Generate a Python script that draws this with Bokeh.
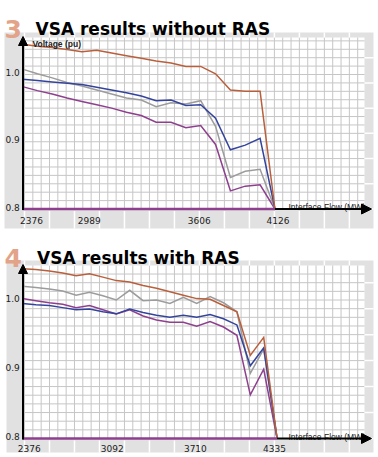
import numpy as np
from bokeh.plotting import figure
from bokeh.layouts import column
from bokeh.models import Arrow, NormalHead
from bokeh.core.properties import value
from bokeh.embed import file_html
from bokeh.resources import INLINE

# ---------------- data ----------------
# Panel 3: VSA results without RAS (operating-point index vs voltage in pu)
points_1 = list(range(18))
orange_1 = [1.045, 1.042, 1.040, 1.037, 1.034, 1.036, 1.032, 1.028, 1.024, 1.020,
            1.017, 1.012, 1.012, 1.001, 0.977, 0.975, 0.975, 0.800]
gray_1 = [1.008, 1.001, 0.995, 0.988, 0.983, 0.977, 0.971, 0.965, 0.962, 0.952,
          0.958, 0.956, 0.961, 0.923, 0.847, 0.856, 0.859, 0.800]
blue_1 = [0.993, 0.991, 0.989, 0.987, 0.985, 0.981, 0.977, 0.973, 0.968, 0.961,
          0.962, 0.954, 0.955, 0.935, 0.888, 0.895, 0.905, 0.800]
purple_1 = [0.982, 0.976, 0.971, 0.965, 0.960, 0.955, 0.950, 0.944, 0.939, 0.929,
            0.929, 0.921, 0.924, 0.896, 0.827, 0.834, 0.836, 0.800]
xtick_pos_1 = [0.6, 4.5, 11.9, 17.2]
xtick_lab_1 = ["2376", "2989", "3606", "4126"]

# Panel 4: VSA results with RAS
points_2 = list(range(20))
orange_2 = [1.045, 1.044, 1.042, 1.039, 1.035, 1.038, 1.033, 1.028, 1.026, 1.021,
            1.017, 1.012, 1.007, 1.002, 1.001, 0.992, 0.983, 0.920, 0.946, 0.800]
gray_2 = [1.020, 1.018, 1.016, 1.013, 1.007, 1.011, 1.006, 1.000, 1.014, 0.999,
          1.000, 0.995, 1.004, 0.995, 1.005, 0.996, 0.983, 0.894, 0.929, 0.800]
blue_2 = [0.995, 0.993, 0.992, 0.989, 0.986, 0.987, 0.983, 0.980, 0.987, 0.982,
          0.978, 0.975, 0.978, 0.975, 0.979, 0.973, 0.964, 0.905, 0.931, 0.800]
purple_2 = [1.002, 0.999, 0.996, 0.994, 0.989, 0.992, 0.986, 0.980, 0.986, 0.977,
            0.971, 0.968, 0.968, 0.962, 0.969, 0.961, 0.949, 0.863, 0.900, 0.800]
xtick_pos_2 = [0.5, 6.7, 12.9, 18.8]
xtick_lab_2 = ["2376", "3092", "3710", "4335"]

ytick_vals = [1.0, 0.9, 0.8]
ytick_labs = ["1.0", "0.9", "0.8"]

# ---------------- style ----------------
C_ORANGE = "#b95f3c"
C_GRAY = "#9c9c9c"
C_BLUE = "#34449c"
C_PURPLE = "#8e3f8e"
C_NUM = "#e2a389"
C_FRAME = "#e1e1e1"
C_GRID = "#c6c6c6"
TITLE_FONT = value("DejaVu Sans")
SMALL_FONT = value("Liberation Sans")
TICK_FONT = value("DejaVu Sans")


def panel(num, title, pts, series, xt_pos, xt_lab, H, x0, dx, y1, k, L, show_ylabel):
    W = 378
    X = lambda px: (px - x0) / dx
    Y = lambda py: 1.0 - (py - y1) / k
    p = figure(width=W, height=H, output_backend="svg", toolbar_location=None,
               x_range=(X(0), X(W)), y_range=(Y(H), Y(0)),
               x_axis_location=None, y_axis_location=None, min_border=0)
    p.grid.visible = False
    p.outline_line_color = None
    p.background_fill_color = "white"
    p.border_fill_color = "white"

    # frame and white grid area
    p.quad(left=X(L["fl"]), right=X(L["fr"]), top=Y(L["ft"]), bottom=Y(L["fb"]),
           fill_color=C_FRAME, line_color=None)
    p.quad(left=X(24), right=X(364), top=Y(L["gt"]), bottom=Y(L["gb"]),
           fill_color="white", line_color=None)
    # grid lines
    vx = np.arange(24, 365, 8.33)
    p.segment(x0=[X(v) for v in vx], y0=Y(L["gt"]), x1=[X(v) for v in vx], y1=Y(L["gb"]),
              line_color=C_GRID, line_width=1)
    hv = [0.8 + 0.0125 * i for i in range(21)]
    hv = [h for h in hv if h <= Y(L["gt"])]
    p.segment(x0=X(24), y0=hv, x1=X(364), y1=hv, line_color=C_GRID, line_width=1)
    # white separators in frame bands
    sx = vx[::3]
    p.segment(x0=[X(v) for v in sx], y0=Y(L["gb"] + 2), x1=[X(v) for v in sx], y1=Y(L["fb"]),
              line_color="white", line_width=1.5)
    p.segment(x0=[X(v) for v in sx], y0=Y(L["ft"]), x1=[X(v) for v in sx], y1=Y(L["gt"]),
              line_color="white", line_width=1.5)
    sh = hv[::3]
    p.segment(x0=X(364), y0=sh, x1=X(L["fr"]), y1=sh, line_color="white", line_width=1.5)

    # curves
    for ys, col in series:
        p.line(pts, ys, line_color=col, line_width=1.5, line_join="miter")
    # collapsed baseline
    p.line([pts[0], pts[-1]], [0.8, 0.8], line_color=C_PURPLE, line_width=2.5)

    # axes with arrows
    p.add_layout(Arrow(x_start=X(pts[-1] * dx + x0), y_start=0.8, x_end=X(371), y_end=0.8,
                       line_width=2, line_color="black",
                       end=NormalHead(size=10, fill_color="black", line_color="black")))
    p.add_layout(Arrow(x_start=X(22.5), y_start=Y(L["gb"] + 1), x_end=X(22.5), y_end=Y(L["at"]),
                       line_width=2, line_color="black",
                       end=NormalHead(size=9, fill_color="black", line_color="black")))

    # tick labels
    p.text(x=X(5), y=ytick_vals, text=ytick_labs, text_font=TICK_FONT,
           text_font_size="9px", text_baseline="middle", text_align="left",
           y_offset=-2, text_color="#222222")
    p.text(x=xt_pos, y=Y(L["xt"]), text=xt_lab, text_font=TICK_FONT,
           text_font_size="9px", text_baseline="middle", text_align="center",
           text_color="#222222")
    p.text(x=[X(288)], y=[Y(L["xl"])], text=["Interface Flow (MW)"], text_font=SMALL_FONT,
           text_font_size="8.5px", text_baseline="alphabetic", text_align="left",
           text_color="#222222")
    if show_ylabel:
        p.text(x=[X(32)], y=[Y(43.5)], text=["Voltage (pu)"], text_font=SMALL_FONT,
               text_font_size="8.5px", text_font_style="bold", text_baseline="alphabetic",
               text_align="left", text_color="#222222")
    # titles
    p.text(x=[X(4)], y=[Y(L["tb"])], text=[num], text_font=TITLE_FONT,
           text_font_size="25px", text_font_style="bold", text_color=C_NUM,
           text_baseline="alphabetic")
    p.text(x=[X(L["tx"])], y=[Y(L["tb"])], text=[title], text_font=TITLE_FONT,
           text_font_size="17px", text_font_style="bold", text_color="black",
           text_baseline="alphabetic")
    return p


L1 = dict(fl=4, fr=373, ft=32, fb=228, gt=37, gb=208.5, at=36, xt=220, xl=206.5, tb=28, tx=35)
p1 = panel("3", "VSA results without RAS", points_1,
           [(purple_1, C_PURPLE), (gray_1, C_GRAY), (blue_1, C_BLUE), (orange_1, C_ORANGE)],
           xtick_pos_1, xtick_lab_1, 232, 22, 14.85, 74, 672.5, L1, True)

L2 = dict(fl=6, fr=373, ft=28, fb=220, gt=33, gb=206, at=32, xt=215.5, xl=204, tb=25, tx=36.5)
p2 = panel("4", "VSA results with RAS", points_2,
           [(purple_2, C_PURPLE), (gray_2, C_GRAY), (blue_2, C_BLUE), (orange_2, C_ORANGE)],
           xtick_pos_2, xtick_lab_2, 225, 22, 13.4, 67.5, 692.5, L2, False)

layout = column(p1, p2, spacing=0)
open("out.html", "w").write(file_html(layout, INLINE))
